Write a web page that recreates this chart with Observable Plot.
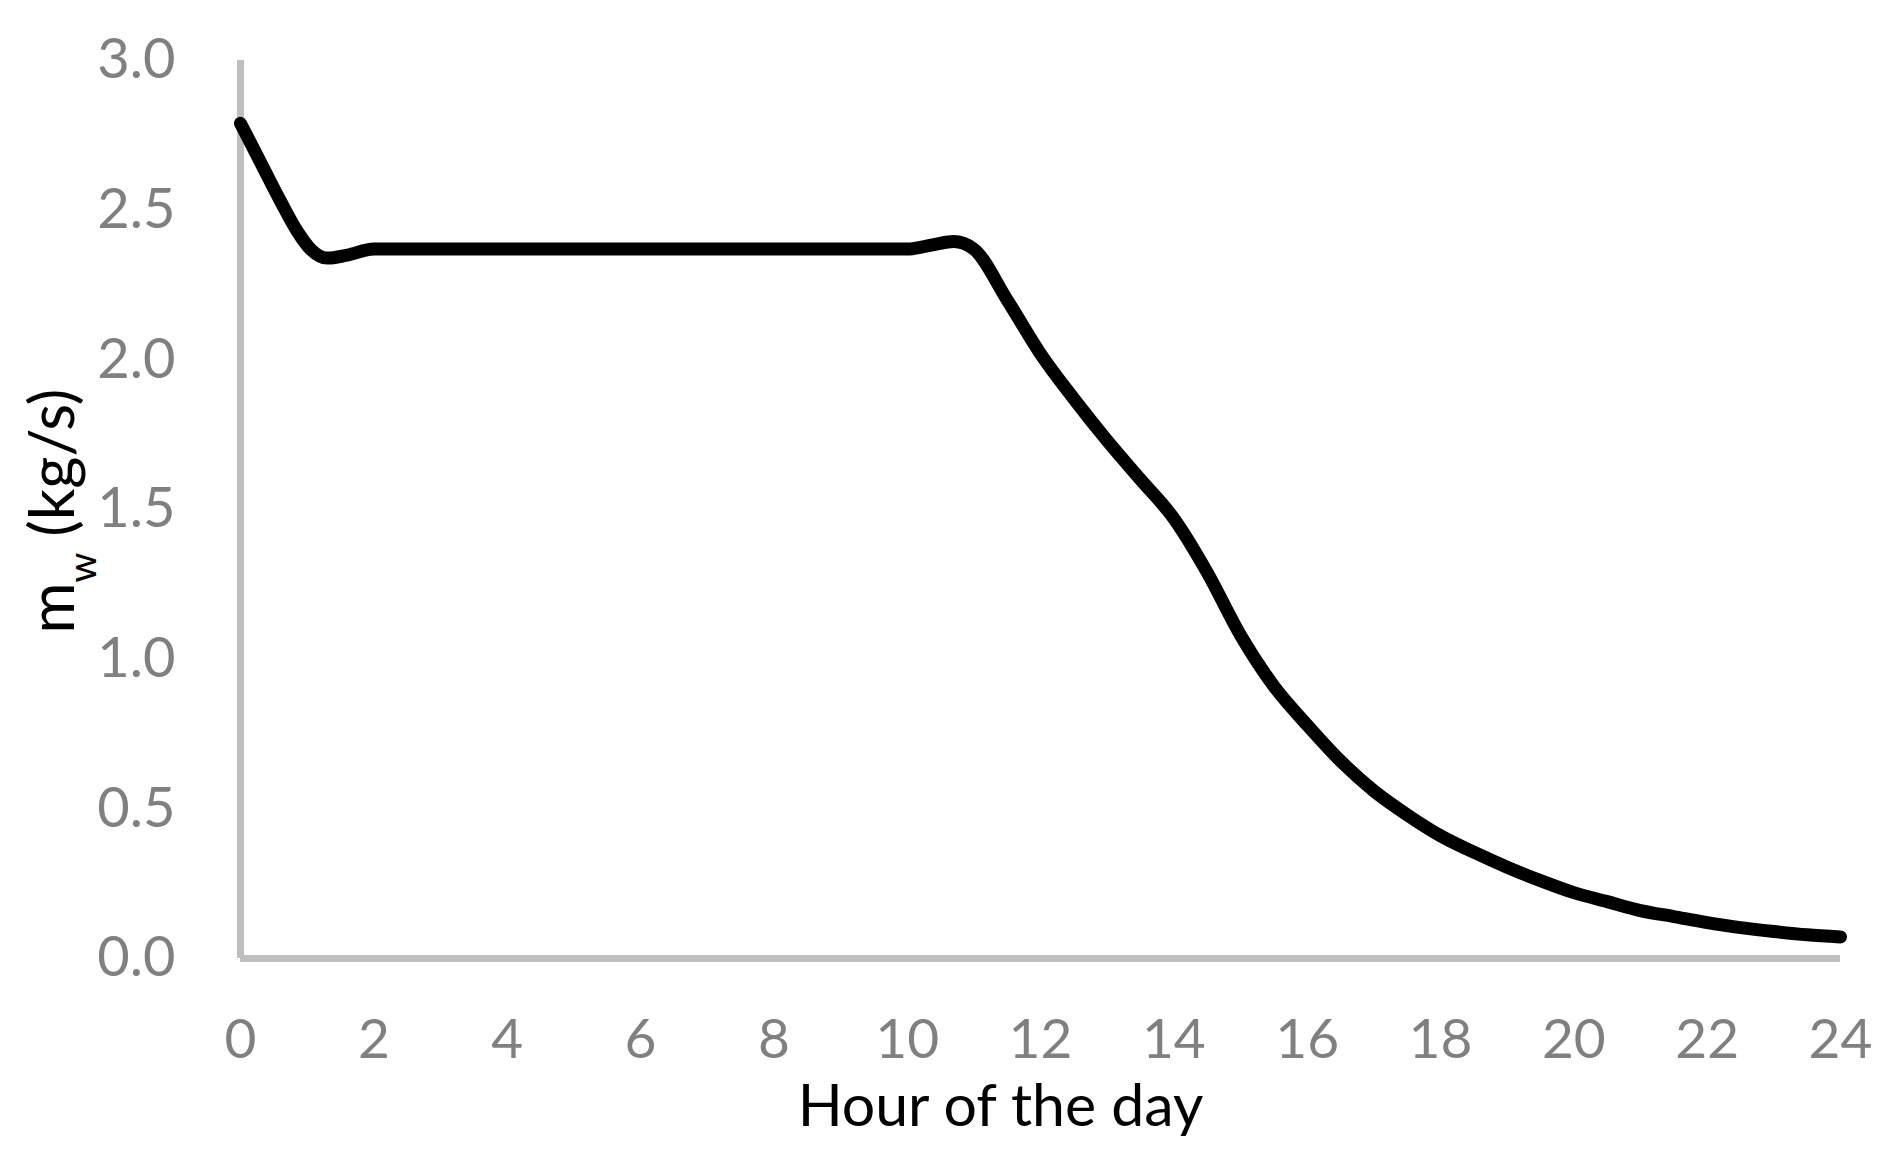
<!DOCTYPE html>
<html>
<head>
<meta charset="utf-8">
<script src="https://cdn.jsdelivr.net/npm/d3@7"></script>
<script src="https://cdn.jsdelivr.net/npm/@observablehq/plot@0.6"></script>
<style>
  body { margin: 0; background: #fff; }
</style>
</head>
<body>
<div id="chart"></div>
<script>
// Data
const hours = [0, 0.3, 0.6, 0.85, 1.05, 1.3, 1.6, 2,
  3, 4, 5, 6, 7, 8, 9, 10,
  10.4, 10.7, 11.0, 11.5, 12, 12.5, 13, 13.5, 14, 14.5,
  15, 15.5, 16, 16.5, 17, 17.5, 18, 18.5, 19, 19.5, 20, 20.5, 21, 21.5, 22, 22.5, 23, 23.5, 24];
const flow = [2.79, 2.66, 2.53, 2.43, 2.37, 2.34, 2.35, 2.37,
  2.37, 2.37, 2.37, 2.37, 2.37, 2.37, 2.37, 2.37,
  2.385, 2.395, 2.37, 2.20, 2.02, 1.87, 1.73, 1.60, 1.47, 1.29,
  1.08, 0.91, 0.78, 0.66, 0.56, 0.48, 0.41, 0.355, 0.305, 0.26, 0.22, 0.19, 0.16, 0.14, 0.12, 0.103, 0.09, 0.079, 0.072];
const xTicks = [0, 2, 4, 6, 8, 10, 12, 14, 16, 18, 20, 22, 24];
const yTicks = [0, 0.5, 1.0, 1.5, 2.0, 2.5, 3.0];
const xLabel = "Hour of the day";
const yLabelMain = "m";
const yLabelSub = "w";
const yLabelUnit = " (kg/s)";

const data = hours.map((h, i) => ({hour: h, flow: flow[i]}));
const yLabelFull = yLabelMain + yLabelSub + yLabelUnit;

const chart = Plot.plot({
  width: 1886,
  height: 1158,
  marginLeft: 240,
  marginRight: 46,
  marginTop: 60,
  marginBottom: 200,
  style: {fontFamily: "Lato, sans-serif", background: "#fff", overflow: "visible"},
  x: {domain: [0, 24]},
  y: {domain: [0, 3]},
  marks: [
    Plot.ruleX([0], {stroke: "#bfbfbf", strokeWidth: 7}),
    Plot.ruleY([0], {stroke: "#bfbfbf", strokeWidth: 7}),
    Plot.axisX(xTicks, {tickSize: 0, tickPadding: 60, fontSize: 55, color: "#808080", label: null}),
    Plot.axisY(yTicks, {tickSize: 0, tickPadding: 65, fontSize: 56, color: "#808080", label: null, tickFormat: d3.format(".1f")}),
    Plot.line(data, {x: "hour", y: "flow", stroke: "#000", strokeWidth: 13, curve: "monotone-x", strokeLinecap: "round", strokeLinejoin: "round"}),
    Plot.text([xLabel], {text: d => d, frameAnchor: "bottom", dx: -40, dy: 167, lineAnchor: "bottom", fontSize: 59, fill: "#000"}),
    Plot.text([yLabelFull], {text: d => d, frameAnchor: "left", rotate: -90, dx: -167, dy: 124, textAnchor: "start", lineAnchor: "bottom", fontSize: 62, fill: "#000"})
  ]
});

// Render subscript in y label
const NS = "http://www.w3.org/2000/svg";
const yl = [...chart.querySelectorAll("text")].find(e => e.textContent === yLabelFull);
if (yl) {
  yl.textContent = "";
  const a = document.createElementNS(NS, "tspan"); a.textContent = yLabelMain;
  const b = document.createElementNS(NS, "tspan"); b.textContent = yLabelSub;
  b.setAttribute("font-size", "38"); b.setAttribute("dy", "22");
  const c = document.createElementNS(NS, "tspan"); c.textContent = yLabelUnit;
  c.setAttribute("dy", "-22");
  yl.append(a, b, c);
}
document.getElementById("chart").append(chart);
</script>
</body>
</html>
